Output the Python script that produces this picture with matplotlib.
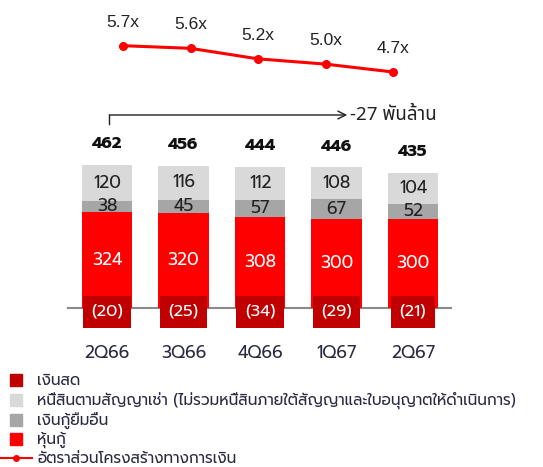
import matplotlib
matplotlib.use("Agg")
import numpy as np
import matplotlib.pyplot as plt
from matplotlib.lines import Line2D

quarters = ["2Q66", "3Q66", "4Q66", "1Q67", "2Q67"]
debentures = [324, 320, 308, 300, 300]
other_loans = [38, 45, 57, 67, 52]
leases = [120, 116, 112, 108, 104]
cash = [-20, -25, -34, -29, -21]
totals = [462, 456, 444, 446, 435]
ratio = [5.7, 5.6, 5.2, 5.0, 4.7]

legend_labels = [
    "เงินสด",
    "หนี้สินตามสัญญาเช่า (ไม่รวมหนี้สินภายใต้สัญญาและใบอนุญาตให้ดำเนินการ)",
    "เงินกู้ยืมอื่น",
    "หุ้นกู้",
    "อัตราส่วนโครงสร้างทางการเงิน",
]

RED = "#ff0000"
DARK_RED = "#c00000"
GRAY = "#a6a6a6"
LIGHT_GRAY = "#d9d9d9"
NAVY = "#2a2a40"
THAI = ["Prompt", "DejaVu Sans"]

W, H = 543, 467
fig = plt.figure(figsize=(W / 100, H / 100), dpi=100)

# bar axes: zero line at ~308 px from top, 0.296 px per unit
px_per = 0.296
top_px, bot_px, zero_px = 100, 335, 308
ax = fig.add_axes([0, (H - bot_px) / H, 1, (bot_px - top_px) / H])
ax.set_xlim((0 - 107) / 76.5, (W - 107) / 76.5)
ax.set_ylim(-(bot_px - zero_px) / px_per, (zero_px - top_px) / px_per)
for s in ax.spines.values():
    s.set_visible(False)
ax.set_yticks([])

x = np.arange(len(quarters))
bw = 0.654
deb = np.array(debentures)
oth = np.array(other_loans)
lea = np.array(leases)

ax.bar(x, deb, bw, color=RED, zorder=2)
ax.bar(x, oth, bw, bottom=deb, color=GRAY, zorder=2)
ax.bar(x, lea, bw, bottom=deb + oth, color=LIGHT_GRAY, zorder=2)
ax.bar(x, cash, 0.54, color=DARK_RED, zorder=3)
ax.plot([-0.51, 4.5], [0, 0], color="#8a8a8a", lw=1.5, zorder=1)

for i in x:
    ax.text(i, deb[i] / 2, f"{deb[i]}", ha="center", va="center",
            color="white", fontsize=12.5, family=THAI, zorder=4)
    ax.text(i, deb[i] + oth[i] / 2, f"{oth[i]}", ha="center", va="center",
            color="#222222", fontsize=12.5, family=THAI, zorder=4)
    ax.text(i, deb[i] + oth[i] + lea[i] / 2, f"{lea[i]}", ha="center",
            va="center", color="#222222", fontsize=12.5, family=THAI, zorder=4)
    ax.text(i, -13, f"({-cash[i]})", ha="center", va="center", color="white",
            fontsize=12, family=THAI, zorder=5,
            bbox=dict(boxstyle="square,pad=0.5", fc=DARK_RED, ec="none"))
    ax.annotate(f"{totals[i]}", (i, deb[i] + oth[i] + lea[i]),
                xytext=(0, 15), textcoords="offset points", ha="center",
                va="center", fontsize=12, fontweight="bold",
                family=THAI, color="#111111")

ax.set_xticks(x)
ax.set_xticklabels(quarters, family=THAI, fontsize=12.5, color=NAVY)
ax.tick_params(axis="x", length=0, pad=7)

# change bracket arrow
y_arrow = (zero_px - 115) / px_per
ax.plot([0.03, 0.03], [y_arrow - 30, y_arrow], color="#222222", lw=1,
        clip_on=False)
ax.annotate("", xy=(3.14, y_arrow), xytext=(0.03, y_arrow),
            arrowprops=dict(arrowstyle="->", color="#222222", lw=1,
                            shrinkA=0, shrinkB=0, mutation_scale=14),
            annotation_clip=False)
ax.text(3.18, y_arrow, f"{totals[-1] - totals[0]} พันล้าน", ha="left",
        va="center", fontsize=13.5, family=["Noto Sans Thai", "DejaVu Sans"],
        color="#222222")

# ratio line on its own axes (narrower spacing)
lax = fig.add_axes([0, 0, 1, 1], facecolor="none")
lax.set_xlim((0 - 123) / 67.5, (W - 123) / 67.5)
lax.set_ylim(5.7 - (H - 45.7) / 26.3, 5.7 + 45.7 / 26.3)
lax.axis("off")
lax.plot(x, ratio, color=RED, lw=2.2, marker="o", markersize=5.5, zorder=3)
for i in x:
    lax.annotate(f"{ratio[i]:.1f}x", (i, ratio[i]), xytext=(0, 17),
                 textcoords="offset points", ha="center", va="center",
                 fontsize=12.5, family="Liberation Sans", color="#222222")

handles = [
    Line2D([], [], ls="none", marker="s", ms=8, color=DARK_RED),
    Line2D([], [], ls="none", marker="s", ms=8, color=LIGHT_GRAY),
    Line2D([], [], ls="none", marker="s", ms=8, color=GRAY),
    Line2D([], [], ls="none", marker="s", ms=8, color=RED),
    Line2D([], [], color=RED, lw=1.5, marker="o", ms=4),
]
fig.legend(handles, legend_labels, loc="upper left",
           bbox_to_anchor=(0.0, (H - 373) / H), frameon=False,
           prop={"family": THAI, "size": 11}, labelcolor=NAVY,
           handlelength=2.1, handletextpad=0.35, labelspacing=0.19,
           borderpad=0, borderaxespad=0)

fig.savefig("out.png", dpi=100)
